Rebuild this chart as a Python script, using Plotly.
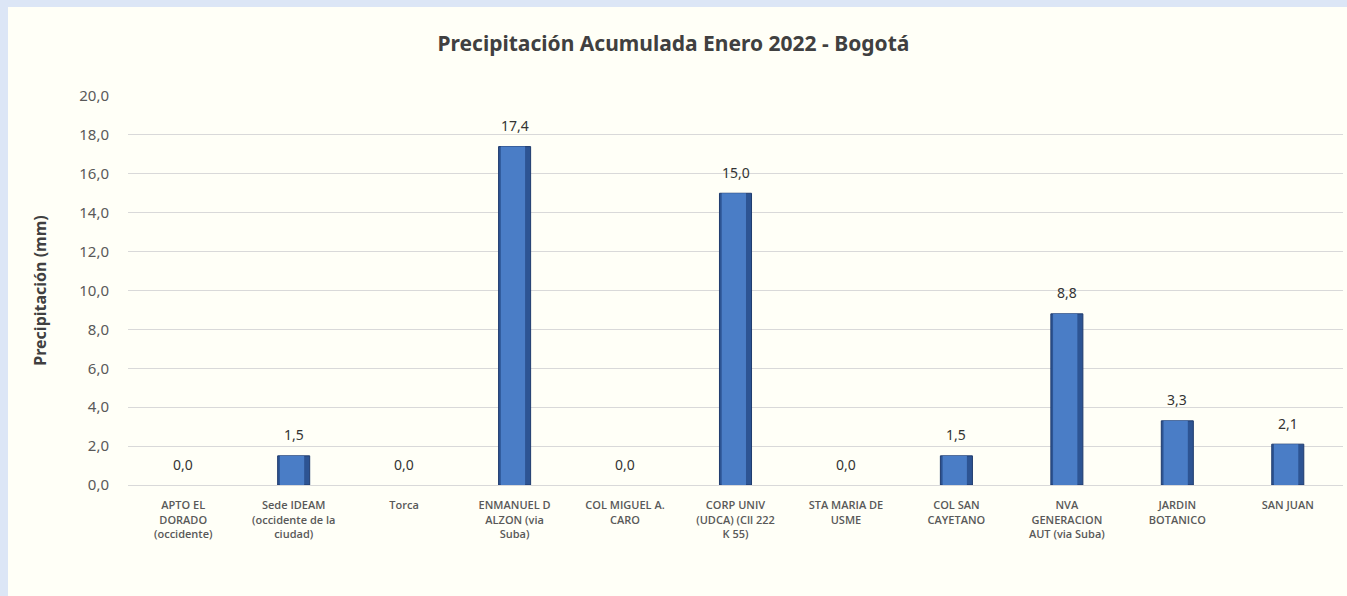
import plotly.graph_objects as go

stations = [
    "APTO EL<br>DORADO<br>(occidente)",
    "Sede IDEAM<br>(occidente de la<br>ciudad)",
    "Torca",
    "ENMANUEL D<br>ALZON (via<br>Suba)",
    "COL MIGUEL A.<br>CARO",
    "CORP UNIV<br>(UDCA) (Cll 222<br>K 55)",
    "STA MARIA DE<br>USME",
    "COL SAN<br>CAYETANO",
    "NVA<br>GENERACION<br>AUT (via Suba)",
    "JARDIN<br>BOTANICO",
    "SAN JUAN",
]
precip = [0.0, 1.5, 0.0, 17.4, 0.0, 15.0, 0.0, 1.5, 8.8, 3.3, 2.1]
y_ticks = [0, 2, 4, 6, 8, 10, 12, 14, 16, 18, 20]

W, H = 1347, 596
ML, MR, MT, MB = 128, 4, 96, 111
PW, PH = W - ML - MR, H - MT - MB

fig = go.Figure()
# outer (dark edge) bars
fig.add_trace(go.Bar(
    x=stations, y=precip, width=0.29,
    marker=dict(color="#2d5493",
                line=dict(color="#1f3b6e", width=[1 if v > 0 else 0 for v in precip])),
    hoverinfo="skip",
))
# inner lighter body
fig.add_trace(go.Bar(
    x=stations, y=precip, width=0.22, offset=-0.125,
    marker=dict(color="#4a7dc6", line=dict(width=0)),
    hoverinfo="skip",
))

for s, v in zip(stations, precip):
    fig.add_annotation(x=s, y=v, text=f"{v:.1f}".replace(".", ","), showarrow=False,
                       yanchor="middle", yshift=21,
                       font=dict(family="Noto Sans", size=14, color="#333333"))

def px_x(p):
    return (p - ML) / PW

def px_y(p):
    return 1 - (p - MT) / PH

fig.update_layout(
    width=W, height=H,
    margin=dict(l=ML, r=MR, t=MT, b=MB),
    paper_bgcolor="#fffff7", plot_bgcolor="#fffff7",
    separators=",.",
    showlegend=False,
    barmode="overlay",
    title=dict(text="<b>Precipitación Acumulada Enero 2022 - Bogotá</b>",
               x=0.5, xref="container", xanchor="center", y=1 - 44 / H, yanchor="middle",
               font=dict(family="Noto Sans", size=21, color="#404040")),
    xaxis=dict(showgrid=False, ticklabelstandoff=10,
               tickfont=dict(family="Open Sans", size=11, color="#595959", weight=600),
               showline=True, linecolor="#d9d9d9", ticks=""),
    yaxis=dict(range=[0, 20], tickvals=y_ticks, tickformat=".1f", showgrid=True,
               gridcolor="#d9d9d9", gridwidth=1, zeroline=False, ticklabelstandoff=18,
               tickfont=dict(family="Noto Sans", size=15, color="#595959"),
               title=dict(text="<b>Precipitación (mm)</b>", standoff=28,
                          font=dict(family="Noto Sans", size=16, color="#404040"))),
    shapes=[
        dict(type="rect", xref="paper", yref="paper", x0=px_x(0), x1=px_x(8),
             y0=px_y(H), y1=px_y(0), fillcolor="#dce6f6", line=dict(width=0), layer="below"),
        dict(type="rect", xref="paper", yref="paper", x0=px_x(0), x1=px_x(W),
             y0=px_y(7), y1=px_y(0), fillcolor="#dce6f6", line=dict(width=0), layer="below"),
    ],
)

fig.write_html("out.html", config={"displayModeBar": False},
               post_script="document.body.style.margin='0px';document.body.style.background='#fffff7';")
